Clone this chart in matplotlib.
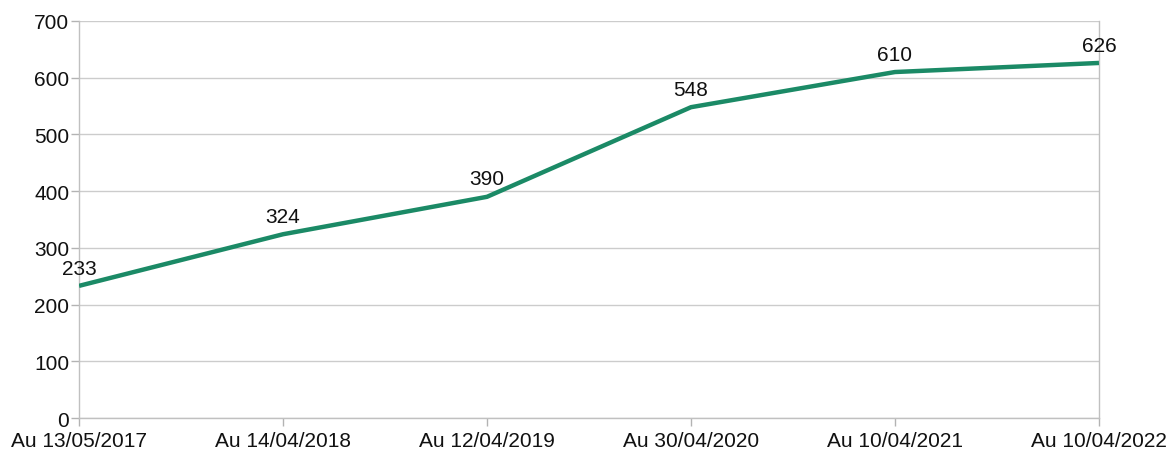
import matplotlib
matplotlib.use("Agg")
import matplotlib.pyplot as plt

dates = ["Au 13/05/2017", "Au 14/04/2018", "Au 12/04/2019", "Au 30/04/2020", "Au 10/04/2021", "Au 10/04/2022"]
values = [233, 324, 390, 548, 610, 626]

plt.rcParams["font.family"] = ["Liberation Sans", "DejaVu Sans"]

fig = plt.figure(figsize=(11.69, 4.56), dpi=100)
ax = fig.add_axes([0.0676, 0.0811, 0.8725, 0.8707])

x = list(range(len(dates)))
ax.plot(x, values, color="#1b8a66", linewidth=3.2, solid_capstyle="butt", zorder=3)
for xi, v in zip(x, values):
    ax.annotate(str(v), (xi, v), xytext=(0, 6), textcoords="offset points",
                ha="center", va="bottom", fontsize=15, color="#111111")

ax.set_xlim(0, len(dates) - 1)
ax.set_ylim(0, 700)
ax.set_yticks(range(0, 701, 100))
ax.set_xticks(x, dates)
ax.grid(axis="y", color="#cccccc", linewidth=1)
ax.set_axisbelow(True)
ax.spines["top"].set_visible(False)
for side in ["left", "right", "bottom"]:
    ax.spines[side].set_color("#c0c0c0")
    ax.spines[side].set_linewidth(1)
ax.tick_params(axis="both", colors="#b3b3b3", labelcolor="#111111", labelsize=15, length=6, width=1)
ax.tick_params(axis="x", pad=3)
ax.tick_params(axis="y", pad=1)

fig.savefig("out.png", dpi=100)
